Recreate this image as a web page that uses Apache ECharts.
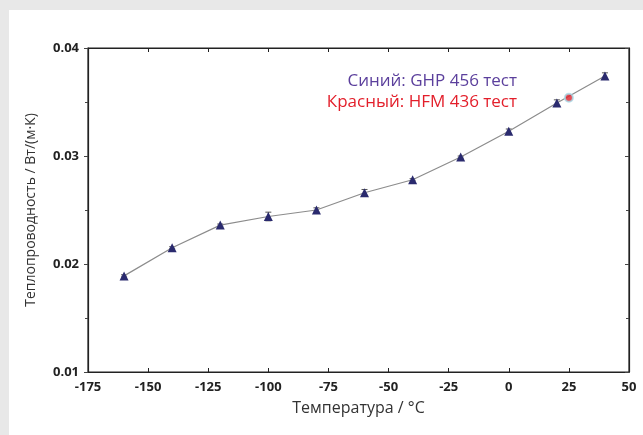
<!DOCTYPE html>
<html>
<head>
<meta charset="utf-8">
<script src="https://cdn.jsdelivr.net/npm/echarts@6/dist/echarts.min.js"></script>
<style>
html,body{margin:0;padding:0;background:#e8e8e8;}
#wrap{position:absolute;left:9px;top:10px;width:634px;height:425px;background:#fff;}
#c{position:absolute;left:0;top:0;width:643px;height:435px;}
</style>
</head>
<body>
<div id="wrap"></div>
<div id="c"></div>
<script>
const temps = [-160, -140, -120, -100, -80, -60, -40, -20, 0, 20, 40];
const ghpValues = [0.0189, 0.0215, 0.0236, 0.0244, 0.0250, 0.0266, 0.0278, 0.0299, 0.0323, 0.0349, 0.0374];
const ghpErrors = [0.0001, 0.0001, 0.0001, 0.0004, 0.0002, 0.0003, 0.0001, 0.0001, 0.0002, 0.0003, 0.0003];
const hfmTemps = [25];
const hfmValues = [0.0354];
const xTicks = [-175, -150, -125, -100, -75, -50, -25, 0, 25, 50];
const yTicks = [0.01, 0.02, 0.03, 0.04];
const legendBlue = 'Синий: GHP 456 тест';
const legendRed = 'Красный: HFM 436 тест';

const chart = echarts.init(document.getElementById('c'), null, {renderer:'canvas'});
const ghpData = temps.map((t,i)=>[t, ghpValues[i]]);
const errData = temps.map((t,i)=>[t, ghpValues[i]-ghpErrors[i], ghpValues[i]+ghpErrors[i]]);
const hfmData = hfmTemps.map((t,i)=>[t, hfmValues[i]]);
const labelStyle = {color:'#222', fontFamily:'Open Sans', fontWeight:700, fontSize:13};

chart.setOption({
  animation:false,
  backgroundColor:'transparent',
  grid:{left:88, right:14, top:48, bottom:63, show:true, borderColor:'#222', borderWidth:1.2, backgroundColor:'#fff'},
  xAxis:[{
    type:'value', min:xTicks[0], max:xTicks[xTicks.length-1], interval:25, position:'bottom',
    name:'Температура / °C', nameLocation:'middle', nameGap:28,
    nameTextStyle:{color:'#333', fontFamily:'Open Sans', fontSize:16},
    axisLine:{show:true, onZero:false, lineStyle:{color:'#222', width:1.2}},
    axisTick:{show:true, inside:true, length:4, lineStyle:{color:'#222'}},
    axisLabel:Object.assign({margin:9}, labelStyle),
    splitLine:{show:false}
  },{
    type:'value', min:xTicks[0], max:xTicks[xTicks.length-1], interval:25, position:'top',
    axisLine:{show:true, onZero:false, lineStyle:{color:'#222', width:1.2}},
    axisTick:{show:true, inside:true, length:4, lineStyle:{color:'#222'}},
    axisLabel:{show:false}, splitLine:{show:false}
  }],
  yAxis:[{
    type:'value', min:yTicks[0], max:yTicks[yTicks.length-1], interval:0.01, position:'left',
    name:'Теплопроводность / Вт/(м·К)', nameLocation:'middle', nameGap:50,
    nameTextStyle:{color:'#333', fontFamily:'Open Sans', fontSize:14},
    axisLine:{show:true, onZero:false, lineStyle:{color:'#222', width:1.2}},
    axisTick:{show:true, inside:false, length:4, lineStyle:{color:'#444'}},
    minorTick:{show:true, splitNumber:2, length:3, lineStyle:{color:'#444'}},
    axisLabel:Object.assign({margin:9, formatter:v=>v.toFixed(2)}, labelStyle),
    splitLine:{show:false}
  },{
    type:'value', min:yTicks[0], max:yTicks[yTicks.length-1], interval:0.01, position:'right',
    axisLine:{show:true, onZero:false, lineStyle:{color:'#222', width:1.2}},
    axisTick:{show:true, inside:true, length:4, lineStyle:{color:'#444'}},
    minorTick:{show:true, splitNumber:2, length:3, lineStyle:{color:'#444'}},
    axisLabel:{show:false}, splitLine:{show:false}
  }],
  graphic:[
    {type:'text', right:126, top:73, style:{text:legendBlue, fill:'#5b3f9c', font:'17px "Open Sans"', textAlign:'right'}},
    {type:'text', right:126, top:94, style:{text:legendRed, fill:'#e31e2a', font:'17px "Open Sans"', textAlign:'right'}}
  ],
  series:[
    {
      type:'custom', data:errData, z:3,
      renderItem:function(params, api){
        const x = api.value(0);
        const lo = api.coord([x, api.value(1)]);
        const hi = api.coord([x, api.value(2)]);
        const w = 3;
        const st = {stroke:'#555', lineWidth:1};
        return {type:'group', children:[
          {type:'line', shape:{x1:lo[0], y1:lo[1], x2:hi[0], y2:hi[1]}, style:st},
          {type:'line', shape:{x1:lo[0]-w, y1:lo[1], x2:lo[0]+w, y2:lo[1]}, style:st},
          {type:'line', shape:{x1:hi[0]-w, y1:hi[1], x2:hi[0]+w, y2:hi[1]}, style:st}
        ]};
      }
    },
    {
      type:'line', data:ghpData, symbol:'triangle', symbolSize:9, z:4,
      lineStyle:{color:'#8c8c8c', width:1.2},
      itemStyle:{color:'#2a2a6e', borderWidth:0}
    },
    {
      type:'scatter', data:hfmData, symbol:'circle', symbolSize:8, z:5,
      itemStyle:{color:'#e0202a', borderColor:'#a8dbe8', borderWidth:2}
    }
  ]
});
</script>
</body>
</html>
